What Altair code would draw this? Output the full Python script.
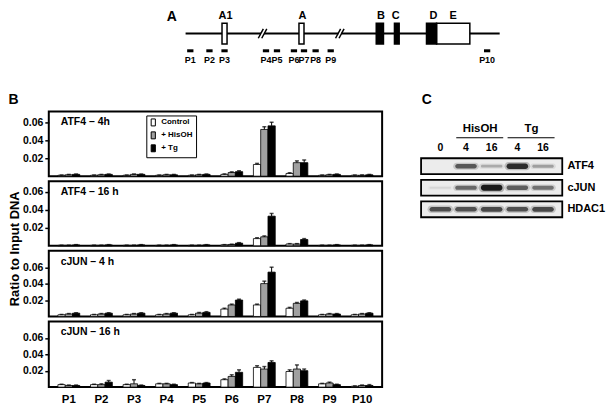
import altair as alt
import pandas as pd

FONT = "Liberation Sans"

# ---------------- Panel A: gene schematic (arbitrary map units, gene line 0..100)
gene_span = [0, 100]
exon_names = ["A1", "A", "B", "C", "D", "E"]
exon_start = [11.6, 36.1, 60.7, 66.5, 76.7, 79.9]
exon_end = [13.2, 37.7, 63.0, 68.0, 79.9, 90.5]
exon_coding = [False, False, True, True, True, False]
exon_label_at = [12.7, 37.2, 62.2, 66.9, 78.9, 85.2]
break_at = [24.5, 49.1]
primer_names = ["P1", "P2", "P3", "P4", "P5", "P6", "P7", "P8", "P9", "P10"]
primer_at = [1.5, 7.6, 12.4, 25.6, 29.1, 34.5, 37.7, 41.4, 46.2, 96.0]

# ---------------- Panel B: ChIP ratio to input DNA
conds = ["Control", "+ HisOH", "+ Tg"]
atf4_4h_ctrl = [0.001, 0.001, 0.001, 0.001, 0.001, 0.002, 0.013, 0.003, 0.001, 0.001]
atf4_4h_his = [0.0015, 0.0015, 0.002, 0.0015, 0.0015, 0.004, 0.052, 0.015, 0.0015, 0.001]
atf4_4h_tg = [0.002, 0.002, 0.002, 0.0015, 0.002, 0.005, 0.056, 0.015, 0.002, 0.0015]
atf4_4h_err_ctrl = [0.0003, 0.0003, 0.0003, 0.0003, 0.0003, 0.0005, 0.0012, 0.0008, 0.0003, 0.0003]
atf4_4h_err_his = [0.0004, 0.0004, 0.0004, 0.0004, 0.0004, 0.0008, 0.003, 0.002, 0.0004, 0.0004]
atf4_4h_err_tg = [0.0004, 0.0004, 0.0004, 0.0004, 0.0004, 0.001, 0.004, 0.003, 0.0004, 0.0004]

atf4_16h_ctrl = [0.0005, 0.0005, 0.0005, 0.0005, 0.0005, 0.001, 0.008, 0.002, 0.0005, 0.0005]
atf4_16h_his = [0.0005, 0.0005, 0.0005, 0.0005, 0.0005, 0.0015, 0.010, 0.002, 0.0005, 0.0005]
atf4_16h_tg = [0.001, 0.001, 0.001, 0.001, 0.001, 0.003, 0.033, 0.007, 0.001, 0.001]
atf4_16h_err_ctrl = [0.0002, 0.0002, 0.0002, 0.0002, 0.0002, 0.0003, 0.001, 0.0004, 0.0002, 0.0002]
atf4_16h_err_his = [0.0002, 0.0002, 0.0002, 0.0002, 0.0002, 0.0003, 0.001, 0.0004, 0.0002, 0.0002]
atf4_16h_err_tg = [0.0003, 0.0003, 0.0003, 0.0003, 0.0003, 0.0005, 0.003, 0.001, 0.0003, 0.0003]

cjun_4h_ctrl = [0.002, 0.002, 0.002, 0.002, 0.002, 0.009, 0.014, 0.010, 0.002, 0.002]
cjun_4h_his = [0.003, 0.003, 0.003, 0.003, 0.004, 0.014, 0.040, 0.016, 0.003, 0.003]
cjun_4h_tg = [0.004, 0.004, 0.004, 0.004, 0.005, 0.020, 0.054, 0.019, 0.003, 0.004]
cjun_4h_err_ctrl = [0.0004, 0.0004, 0.0004, 0.0004, 0.0004, 0.001, 0.001, 0.001, 0.0004, 0.0004]
cjun_4h_err_his = [0.0005, 0.0005, 0.0005, 0.0005, 0.0008, 0.001, 0.003, 0.001, 0.0005, 0.0005]
cjun_4h_err_tg = [0.0005, 0.0005, 0.0005, 0.0005, 0.0008, 0.001, 0.006, 0.001, 0.0005, 0.0005]

cjun_16h_ctrl = [0.003, 0.003, 0.003, 0.004, 0.005, 0.009, 0.024, 0.019, 0.004, 0.001]
cjun_16h_his = [0.002, 0.003, 0.004, 0.004, 0.004, 0.013, 0.022, 0.022, 0.005, 0.002]
cjun_16h_tg = [0.002, 0.006, 0.002, 0.003, 0.005, 0.018, 0.030, 0.020, 0.003, 0.002]
cjun_16h_err_ctrl = [0.0005, 0.0005, 0.0005, 0.0005, 0.0005, 0.001, 0.002, 0.002, 0.0005, 0.0005]
cjun_16h_err_his = [0.0005, 0.001, 0.005, 0.0005, 0.0005, 0.002, 0.003, 0.005, 0.001, 0.0005]
cjun_16h_err_tg = [0.0005, 0.002, 0.0005, 0.0005, 0.0005, 0.003, 0.002, 0.002, 0.0005, 0.001]

# ---------------- Panel C: western blot (band darkness 0..1)
lane_labels = ["0", "4", "16", "4", "16"]
lane_index = [0, 1, 2, 3, 4]
group_names = ["HisOH", "Tg"]
group_first_lane = [1, 3]
group_last_lane = [2, 4]
blot_rows = ["ATF4", "cJUN", "HDAC1"]
band_atf4 = [0.0, 0.62, 0.25, 0.85, 0.3]
band_cjun = [0.08, 0.55, 0.95, 0.6, 0.5]
band_hdac1 = [0.68, 0.66, 0.7, 0.66, 0.7]

# =====================================================================
# Panel A chart
xA = alt.Scale(domain=[-43.55, 132.9], nice=False, zero=False)
yA = alt.Scale(domain=[-3.08, 2.26], nice=False, zero=False)


def ax(field):
    return alt.X(field, scale=xA, axis=None)


def ay(field):
    return alt.Y(field, scale=yA, axis=None)


line_df = pd.DataFrame({"x": [gene_span[0]], "x2": [gene_span[1]], "y": [0.0]})
gene_line = alt.Chart(line_df).mark_rule(color="black", strokeWidth=2).encode(
    x=ax("x:Q"), x2="x2:Q", y=ay("y:Q"))

gap_df = pd.DataFrame({"b": break_at})
gaps = alt.Chart(gap_df).transform_calculate(
    x="datum.b - 0.5", x2="datum.b + 0.5", y="-0.25", y2="0.25"
).mark_rect(fill="white").encode(x=ax("x:Q"), x2="x2:Q", y=ay("y:Q"), y2="y2:Q")

slash_rows = []
for b in break_at:
    for k in (-0.55, 0.55):
        slash_rows.append({"b": b, "k": k})
slashes = alt.Chart(pd.DataFrame(slash_rows)).transform_calculate(
    x="datum.b + datum.k - 0.8", x2="datum.b + datum.k + 0.8", y="-0.45", y2="0.45"
).mark_rule(color="black", strokeWidth=1.5).encode(
    x=ax("x:Q"), x2="x2:Q", y=ay("y:Q"), y2="y2:Q")

exon_df = pd.DataFrame({"name": exon_names, "start": exon_start, "end": exon_end,
                        "coding": exon_coding, "lab": exon_label_at})
exon_base = alt.Chart(exon_df).transform_calculate(lo="-1", hi="1", ly="1.73")
exons_open = exon_base.transform_filter("!datum.coding").mark_rect(
    fill="white", stroke="black", strokeWidth=1.5).encode(
    x=ax("start:Q"), x2="end:Q", y=ay("lo:Q"), y2="hi:Q")
exons_fill = exon_base.transform_filter("datum.coding").mark_rect(
    fill="black", stroke="black", strokeWidth=1.5).encode(
    x=ax("start:Q"), x2="end:Q", y=ay("lo:Q"), y2="hi:Q")
exon_text = exon_base.mark_text(font=FONT, fontSize=11, fontWeight="bold",
                                baseline="middle", color="black").encode(
    x=ax("lab:Q"), y=ay("ly:Q"), text="name:N")

primer_df = pd.DataFrame({"name": primer_names, "at": primer_at})
primer_base = alt.Chart(primer_df).transform_calculate(
    x="datum.at - 1.0", x2="datum.at + 1.0", y="-1.65", ly="-2.55")
primer_dash = primer_base.mark_rule(color="black", strokeWidth=3).encode(
    x=ax("x:Q"), x2="x2:Q", y=ay("y:Q"))
primer_text = primer_base.mark_text(font=FONT, fontSize=9, fontWeight="bold",
                                    baseline="middle", color="black").encode(
    x=ax("at:Q"), y=ay("ly:Q"), text="name:N")

letterA = alt.Chart(pd.DataFrame({"t": ["A"], "x": [-4.4], "y": [1.55]})).mark_text(
    font=FONT, fontSize=14, fontWeight="bold", baseline="middle", color="black").encode(
    x=ax("x:Q"), y=ay("y:Q"), text="t:N")

panelA = alt.layer(gene_line, gaps, slashes, exons_open, exons_fill, exon_text,
                   primer_dash, primer_text, letterA).properties(width=557, height=56)

# =====================================================================
# Panel B charts


def panel_df(ctrl, his, tg, e_c, e_h, e_t):
    rows = []
    for cond, vals, errs in zip(conds, [ctrl, his, tg], [e_c, e_h, e_t]):
        for p, v, e in zip(primer_names, vals, errs):
            rows.append({"primer": p, "cond": cond, "value": v, "hi": v + e})
    return pd.DataFrame(rows)


def bar_panel(label, df, ymax, h, last=False, legend=False, ytitle=False, letter=False):
    if last:
        xaxis = alt.Axis(title=None, labelAngle=0, ticks=False, domain=False, labelFont=FONT,
                         labelFontSize=11.5, labelFontWeight="bold", labelColor="black",
                         labelPadding=6)
    else:
        xaxis = None
    x = alt.X("primer:N", sort=primer_names,
              scale=alt.Scale(domain=primer_names, paddingInner=0.33, paddingOuter=0.28),
              axis=xaxis)
    xo = alt.XOffset("cond:N", sort=conds,
                     scale=alt.Scale(domain=conds, paddingInner=0, paddingOuter=0))
    yscale = alt.Scale(domain=[0, ymax], nice=False, zero=True)
    yaxis = alt.Axis(title=None, values=[0.02, 0.04, 0.06], format=".2f", grid=False,
                     domain=False, tickSize=4, tickWidth=1.5, tickColor="black",
                     labelFont=FONT, labelFontSize=10.5, labelFontWeight="bold",
                     labelColor="black", labelPadding=2, labelOverlap=False,
                     labelBound=False, labelFlush=False)
    if legend:
        leg = alt.Legend(title=None, orient="none", legendX=98, legendY=4,
                         symbolType="M-0.6,-1H0.6V1H-0.6Z", symbolSize=49,
                         symbolStrokeColor="black", symbolStrokeWidth=1,
                         labelFont=FONT, labelFontSize=8, labelFontWeight="bold",
                         labelColor="black", labelOffset=4, rowPadding=1, padding=3,
                         strokeColor="black", fillColor="white")
    else:
        leg = None
    color = alt.Color("cond:N", sort=conds,
                      scale=alt.Scale(domain=conds, range=["white", "#a0a0a0", "black"]),
                      legend=leg)
    base = alt.Chart(df)
    bars = base.mark_bar(stroke="black", strokeWidth=0.8).encode(
        x=x, xOffset=xo, y=alt.Y("value:Q", scale=yscale, axis=yaxis), color=color)
    err = base.mark_rule(color="black", strokeWidth=1).encode(
        x=x, xOffset=xo, y=alt.Y("value:Q", scale=yscale, axis=yaxis), y2="hi:Q")
    cap = base.mark_tick(color="black", thickness=1.5, size=4).encode(
        x=x, xOffset=xo, y=alt.Y("hi:Q", scale=yscale, axis=yaxis))
    txt = alt.Chart(pd.DataFrame({"t": [label]})).mark_text(
        align="left", baseline="middle", font=FONT, fontSize=10.5, fontWeight="bold",
        color="black").encode(text="t:N", x=alt.value(12), y=alt.value(11))
    layers = [bars, err, cap, txt]
    if ytitle:
        yt = alt.Chart(pd.DataFrame({"t": ["Ratio to Input DNA"]})).mark_text(
            angle=270, align="center", baseline="middle", font=FONT, fontSize=13,
            fontWeight="bold", color="black").encode(
            text="t:N", x=alt.value(-34), y=alt.value(-2))
        layers.append(yt)
    if letter:
        lt = alt.Chart(pd.DataFrame({"t": ["B"]})).mark_text(
            align="center", baseline="middle", font=FONT, fontSize=14,
            fontWeight="bold", color="black").encode(
            text="t:N", x=alt.value(-35.5), y=alt.value(-11.5))
        layers.append(lt)
    return alt.layer(*layers).properties(
        width=335, height=h, view=alt.ViewBackground(stroke="black", strokeWidth=2))


p1 = bar_panel("ATF4 – 4h", panel_df(atf4_4h_ctrl, atf4_4h_his, atf4_4h_tg,
                                     atf4_4h_err_ctrl, atf4_4h_err_his, atf4_4h_err_tg),
               0.072, 65, legend=True, letter=True)
p2 = bar_panel("ATF4 – 16 h", panel_df(atf4_16h_ctrl, atf4_16h_his, atf4_16h_tg,
                                       atf4_16h_err_ctrl, atf4_16h_err_his, atf4_16h_err_tg),
               0.072, 65)
p3 = bar_panel("cJUN – 4 h", panel_df(cjun_4h_ctrl, cjun_4h_his, cjun_4h_tg,
                                      cjun_4h_err_ctrl, cjun_4h_err_his, cjun_4h_err_tg),
               0.08, 66, ytitle=True)
p4 = bar_panel("cJUN – 16 h", panel_df(cjun_16h_ctrl, cjun_16h_his, cjun_16h_tg,
                                       cjun_16h_err_ctrl, cjun_16h_err_his, cjun_16h_err_tg),
               0.08, 66, last=True)

panelB = alt.vconcat(p1, p2, p3, p4, spacing=5, bounds="flush").resolve_scale(
    color="independent")

# =====================================================================
# Panel C chart
xC = alt.Scale(domain=[-0.756, 6.415], nice=False, zero=False)
yC = alt.Scale(domain=[-2.54, 2.54], nice=False, zero=False, reverse=True)


def cx(field):
    return alt.X(field, scale=xC, axis=None)


def cy(field):
    return alt.Y(field, scale=yC, axis=None)


rows_df = pd.DataFrame({"row": blot_rows, "r": [0, 1, 2]})
boxes = alt.Chart(rows_df).transform_calculate(
    x="-0.75", x2="4.75", y="datum.r - 0.37", y2="datum.r + 0.37"
).mark_rect(fill="#ececec", stroke="black", strokeWidth=1.8).encode(
    x=cx("x:Q"), x2="x2:Q", y=cy("y:Q"), y2="y2:Q")
row_text = alt.Chart(rows_df).transform_calculate(x="4.95").mark_text(
    align="left", baseline="middle", font=FONT, fontSize=11, fontWeight="bold",
    color="black").encode(x=cx("x:Q"), y=cy("r:Q"), text="row:N")

band_rows = []
for r, vals in enumerate([band_atf4, band_cjun, band_hdac1]):
    for li, v in zip(lane_index, vals):
        band_rows.append({"r": r, "lane": li, "dark": v})
band_df = pd.DataFrame(band_rows)
band_halo = alt.Chart(band_df).transform_calculate(
    x="datum.lane - 0.5", x2="datum.lane + 0.5",
    y="datum.r - 0.09 - 0.12 * datum.dark", y2="datum.r + 0.09 + 0.12 * datum.dark",
    op="0.25 * datum.dark"
).mark_rect(fill="black", cornerRadius=4).encode(
    x=cx("x:Q"), x2="x2:Q", y=cy("y:Q"), y2="y2:Q",
    opacity=alt.Opacity("op:Q", scale=None))
band_core = alt.Chart(band_df).transform_calculate(
    x="datum.lane - 0.42", x2="datum.lane + 0.42",
    y="datum.r - 0.04 - 0.1 * datum.dark", y2="datum.r + 0.04 + 0.1 * datum.dark",
    op="0.9 * datum.dark"
).mark_rect(fill="black", cornerRadius=3).encode(
    x=cx("x:Q"), x2="x2:Q", y=cy("y:Q"), y2="y2:Q",
    opacity=alt.Opacity("op:Q", scale=None))

lane_df = pd.DataFrame({"lab": lane_labels, "lane": lane_index})
lane_text = alt.Chart(lane_df).transform_calculate(y="-0.86").mark_text(
    baseline="middle", font=FONT, fontSize=10.5, fontWeight="bold", color="black").encode(
    x=cx("lane:Q"), y=cy("y:Q"), text="lab:N")

grp_df = pd.DataFrame({"g": group_names, "a": group_first_lane, "b": group_last_lane})
grp_line = alt.Chart(grp_df).transform_calculate(
    x="datum.a - 0.38", x2="datum.b + 0.45", y="-1.32").mark_rule(
    color="black", strokeWidth=1.2).encode(x=cx("x:Q"), x2="x2:Q", y=cy("y:Q"))
grp_text = alt.Chart(grp_df).transform_calculate(
    x="(datum.a + datum.b) / 2 + 0.05", y="-1.74").mark_text(
    baseline="middle", font=FONT, fontSize=11.5, fontWeight="bold", color="black").encode(
    x=cx("x:Q"), y=cy("y:Q"), text="g:N")

letterC = alt.Chart(pd.DataFrame({"t": ["C"]})).mark_text(
    align="center", baseline="middle", font=FONT, fontSize=14, fontWeight="bold",
    color="black").encode(text="t:N", x=alt.value(6), y=alt.value(-11.5))

panelC = alt.layer(boxes, band_halo, band_core, row_text, lane_text, grp_line, grp_text,
                   letterC).properties(width=185, height=110)

# =====================================================================
chart = alt.vconcat(
    panelA,
    alt.hconcat(panelB, panelC, spacing=36),
    spacing=25,
).properties(
    padding={"left": -1, "top": 0, "right": 0, "bottom": 0}
).configure(font=FONT).configure_view(
    stroke="transparent").configure_legend(strokeWidth=1).configure_axis(labelOverlap=False)

chart.save("out.html", embed_options={"renderer": "svg", "actions": False})
